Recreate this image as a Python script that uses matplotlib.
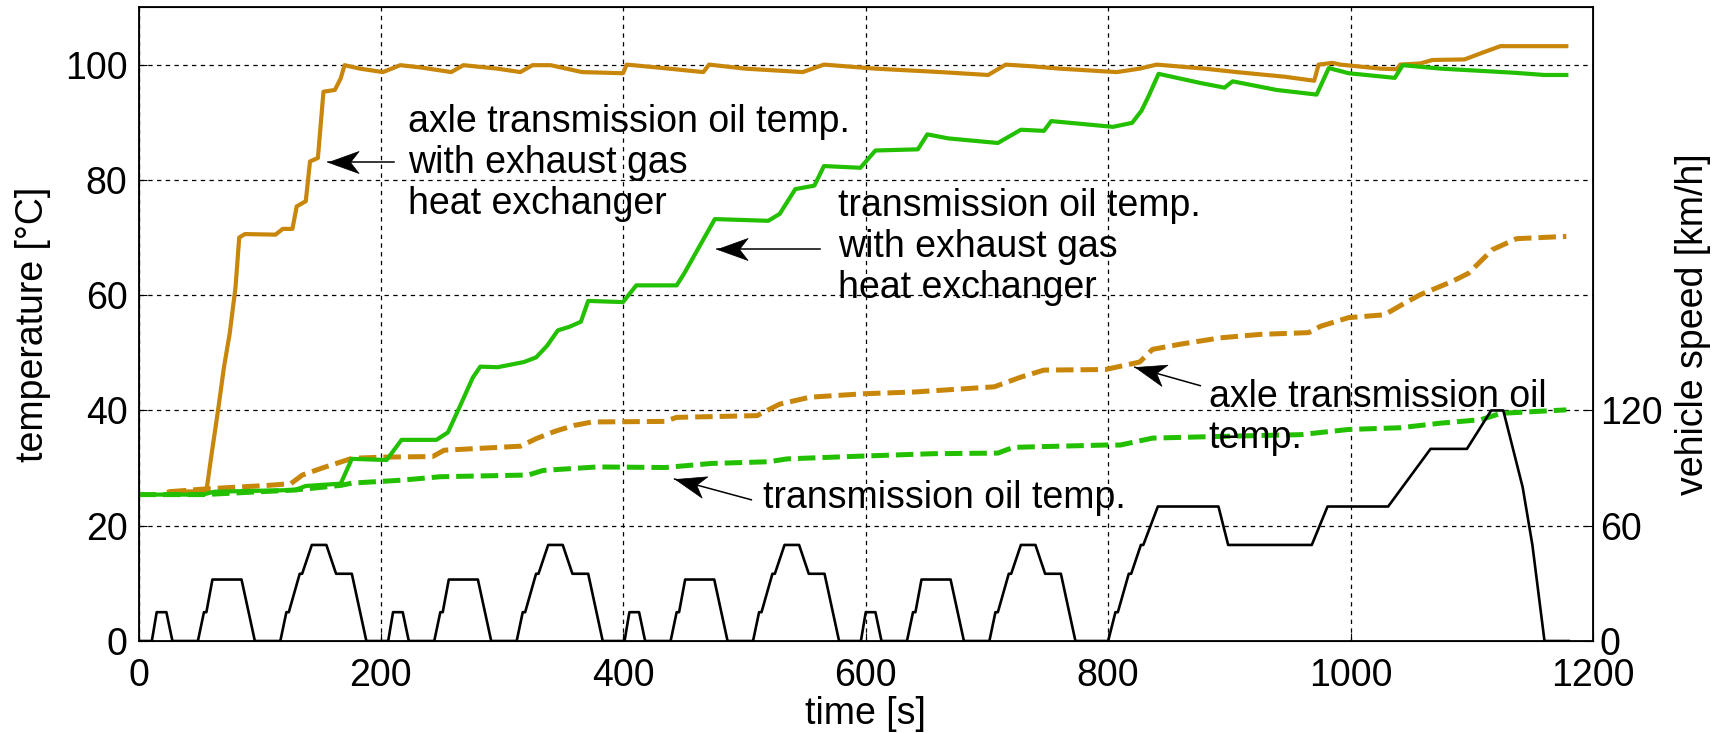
import numpy as np
import matplotlib
matplotlib.use('Agg')
import matplotlib.pyplot as plt
from matplotlib.path import Path
from matplotlib.markers import MarkerStyle
from matplotlib.transforms import Affine2D

plt.rcParams['font.family'] = ['Liberation Sans', 'DejaVu Sans']

# axle transmission oil temp. with exhaust gas heat exchanger (solid orange)
t_axle_hx = [25, 56, 60, 65.6, 70.5, 75.2, 80, 83.1, 87.8, 113, 119, 127, 130.5, 138, 141.5, 148,
             152.6, 162, 166.8, 170, 182.6, 201.6, 216, 233, 258, 268, 296, 315, 325, 340, 366,
             399.7, 402.8, 428, 466, 470.7, 500.6, 548, 565.5, 608, 662, 701, 715.5, 737.5, 760,
             807, 826, 840, 879.5, 906, 945.5, 970, 973.6, 985, 991.6, 1024.7, 1038, 1041, 1057.6,
             1067.5, 1094, 1110.5, 1123.6, 1178]
T_axle_hx = [25.9, 26.0, 32, 40, 47.5, 53.3, 61.3, 70.0, 70.6, 70.5, 71.5, 71.5, 75.4, 76.3, 83.2, 83.8,
             95.3, 95.6, 97.6, 99.9, 99.3, 98.7, 99.9, 99.5, 98.7, 99.9, 99.3, 98.7, 99.9, 99.9, 98.7,
             98.5, 100, 99.5, 98.7, 100, 99.3, 98.7, 100, 99.3, 98.7, 98.2, 100, 99.7, 99.3,
             98.7, 99.3, 100, 99.3, 98.7, 97.9, 97.2, 100, 100.3, 100, 99.3, 99.2, 100, 100.2,
             100.8, 100.9, 102.2, 103.2, 103.2]

# axle transmission oil temp. (dashed orange)
t_axle = [25, 56.3, 107, 125.7, 135.2, 154.2, 176.3, 201.6, 242.7, 252.2, 315.3, 328, 343.8, 359.5,
          374.3, 434.4, 444, 510.3, 529, 554, 598.7, 639.8, 706, 728.2, 747, 797.8, 826, 836.6,
          859.7, 892.7, 925.7, 965.3, 975.2, 998.3, 1028, 1044.5, 1057.7, 1084, 1097.3, 1117, 1137, 1178]
T_axle = [25.9, 26.4, 27.0, 27.3, 28.8, 30.2, 31.7, 31.9, 32.0, 33.1, 33.8, 35.1, 36.4, 37.4,
          38.0, 38.1, 38.8, 39.1, 41.1, 42.3, 42.9, 43.2, 44.1, 45.8, 47.0, 47.1, 48.4, 50.6,
          51.5, 52.6, 53.2, 53.5, 54.6, 56.1, 56.6, 58.6, 60.1, 62.4, 63.8, 67.9, 69.8, 70.2]

# transmission oil temp. with exhaust gas heat exchanger (solid green)
t_trans_hx = [0, 53, 62.6, 129, 138, 166.8, 176, 204.7, 217, 245.8, 255.3, 264.7, 275.8, 282, 296.3,
              318, 328, 337, 346, 355.4, 365, 371, 399.7, 410.7, 444, 450, 475.5, 519.6, 529, 541.9,
              557.6, 565.5, 595.6, 608, 643, 650.8, 668, 709, 728, 747, 753, 804, 819.8, 827.5,
              833.3, 841.6, 876.3, 896, 902.7, 939, 972, 982, 998.5, 1036.5, 1043, 1074.5, 1134,
              1160, 1178]
T_trans_hx = [25.4, 25.4, 25.9, 26.2, 26.9, 27.3, 31.6, 31.4, 34.9, 34.9, 36.2, 40.5, 45.7, 47.6, 47.5,
              48.4, 49.2, 51.2, 53.9, 54.5, 55.4, 59.0, 58.8, 61.7, 61.7, 63.7, 73.2, 72.9, 74.1, 78.4,
              79.0, 82.4, 82.1, 85.1, 85.3, 87.9, 87.2, 86.4, 88.7, 88.5, 90.2, 89.2, 89.9, 92.0,
              94.5, 98.4, 96.8, 96.0, 97.1, 95.6, 94.8, 99.4, 98.5, 97.7, 99.9, 99.3, 98.6,
              98.2, 98.2]

# transmission oil temp. (dashed green)
t_trans = [0, 53, 129, 166.8, 176.3, 217, 248.9, 321.5, 334, 378.5, 434.4, 472.3, 519.6, 535.4, 586,
           655.5, 709, 721.8, 797.8, 810, 836.6, 892.7, 958.7, 998.3, 1041, 1074.5, 1107.5, 1124, 1178]
T_trans = [25.4, 25.4, 26.2, 27.0, 27.4, 27.9, 28.5, 28.8, 29.6, 30.2, 30.1, 30.8, 31.1, 31.6, 32.0,
           32.5, 32.6, 33.6, 34.0, 34.0, 35.2, 35.5, 35.8, 36.7, 37.0, 37.8, 38.4, 39.5, 40.1]

# vehicle speed (NEDC)
t_speed = [0, 11, 15, 23, 28, 49, 54, 56, 61, 85, 96, 117, 122, 124, 133, 135, 143, 155, 163, 176, 188,
           195, 206, 210, 218, 223, 244, 249, 251, 256, 280, 291, 312, 317, 319, 328, 330, 338, 350,
           358, 371, 383,
           390, 401, 405, 413, 418, 439, 444, 446, 451, 475, 486, 507, 512, 514, 523, 525, 533, 545,
           553, 566, 578,
           585, 596, 600, 608, 613, 634, 639, 641, 646, 670, 681, 702, 707, 709, 718, 720, 728, 740,
           748, 761, 773,
           780, 800, 806, 808, 817, 819, 827, 829, 841, 891, 899, 968, 981, 1031, 1066, 1096, 1116,
           1126, 1142, 1150, 1160, 1180]
v_speed = [0, 0, 15, 15, 0, 0, 15, 15, 32, 32, 0, 0, 15, 15, 35, 35, 50, 50, 35, 35, 0,
           0, 0, 15, 15, 0, 0, 15, 15, 32, 32, 0, 0, 15, 15, 35, 35, 50, 50,
           35, 35, 0,
           0, 0, 15, 15, 0, 0, 15, 15, 32, 32, 0, 0, 15, 15, 35, 35, 50, 50,
           35, 35, 0,
           0, 0, 15, 15, 0, 0, 15, 15, 32, 32, 0, 0, 15, 15, 35, 35, 50, 50,
           35, 35, 0,
           0, 0, 15, 15, 35, 35, 50, 50, 70, 70, 50, 50, 70, 70, 100, 100, 120,
           120, 80, 50, 0, 0]

# annotations: text, text position, arrow tail, arrow tip
labels = ['axle transmission oil temp.\nwith exhaust gas\nheat exchanger',
          'transmission oil temp.\nwith exhaust gas\nheat exchanger',
          'axle transmission oil\ntemp.',
          'transmission oil temp.']
label_xy = [(222, 83.0), (577, 68.3), (883, 38.8), (515, 24.8)]
arrow_tail = [(211, 83.1), (562, 68.0), (876, 44.3), (505.6, 24.5)]
arrow_tip = [(156.5, 83.1), (477.5, 68.0), (822, 47.5), (442.3, 28.1)]

orange = '#C8860A'
green = '#22C000'
fs = 27

fig = plt.figure(figsize=(17.27, 7.33), dpi=100)
ax = fig.add_axes([0.0802, 0.1255, 0.8422, 0.865])

ax.plot(t_axle_hx, T_axle_hx, color=orange, lw=3.0, zorder=3)
ax.plot(t_axle, T_axle, color=orange, lw=3.6, ls=(0, (3.5, 1.4)), zorder=3)
ax.plot(t_trans_hx, T_trans_hx, color=green, lw=3.0, zorder=4)
ax.plot(t_trans, T_trans, color=green, lw=3.6, ls=(0, (3.5, 1.4)), zorder=4)

ax.set_xlim(0, 1200)
ax.set_ylim(0, 110)
ax.set_xticks(range(0, 1201, 200))
ax.set_yticks(range(0, 101, 20))
ax.grid(True, color='black', lw=0.9, ls=(0, (3.5, 3.5)))
ax.tick_params(direction='in', length=6, labelsize=fs, pad=8)
ax.tick_params(axis='x', pad=12)
for s in ax.spines.values():
    s.set_linewidth(1.3)
ax.set_xlabel('time [s]', fontsize=fs, labelpad=2)
ax.set_ylabel('temperature [°C]', fontsize=fs, labelpad=10)

ax2 = ax.twinx()
ax2.plot(t_speed, v_speed, color='black', lw=1.9)
ax2.set_ylim(0, 330)
ax2.set_yticks([0, 60, 120])
ax2.tick_params(direction='in', length=6, labelsize=fs, pad=5)
ax2.set_ylabel('vehicle speed [km/h]', fontsize=fs, labelpad=9)

# notched arrow head, tip at the origin pointing to +x
head = Path([(0, 0), (-1, 0.36), (-0.72, 0), (-1, -0.36), (0, 0)],
            [Path.MOVETO, Path.LINETO, Path.LINETO, Path.LINETO, Path.CLOSEPOLY])

for text, xy, tail, tip in zip(labels, label_xy, arrow_tail, arrow_tip):
    ax.text(xy[0], xy[1], text, fontsize=fs, ha='left', va='center', linespacing=1.18, zorder=5)
    ax.plot([tail[0], tip[0]], [tail[1], tip[1]], color='black', lw=1.1, zorder=5)
    p0 = ax.transData.transform(tail)
    p1 = ax.transData.transform(tip)
    ang = np.degrees(np.arctan2(p1[1] - p0[1], p1[0] - p0[0]))
    m = MarkerStyle(head, transform=Affine2D().rotate_deg(ang))
    ax.plot([tip[0]], [tip[1]], marker=m, markersize=44, color='black', mec='black',
            mew=0.5, zorder=6)

fig.savefig('out.png', dpi=100)
